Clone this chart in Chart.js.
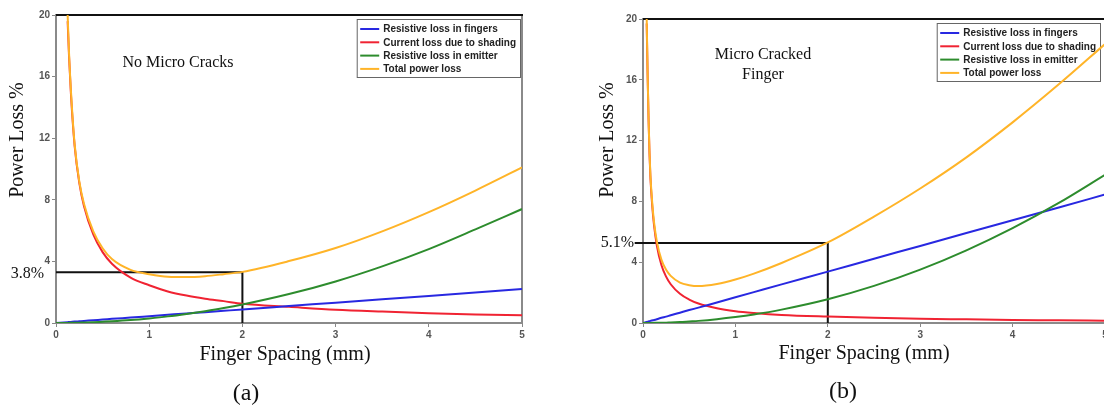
<!DOCTYPE html>
<html>
<head>
<meta charset="utf-8">
<script src="https://cdn.jsdelivr.net/npm/chart.js@4.4.0/dist/chart.umd.min.js"></script>
<style>
  html, body { margin: 0; padding: 0; background: #fff; overflow: hidden; }
  #wrap { position: relative; width: 1104px; height: 410px; overflow: hidden; }
  .panel { position: absolute; top: 0; height: 410px; }
  #panelA { left: 0; width: 545px; }
  #panelB { left: 585px; width: 540px; }
</style>
</head>
<body>
<div id="wrap">
  <div class="panel" id="panelA"><canvas id="chartA"></canvas></div>
  <div class="panel" id="panelB"><canvas id="chartB"></canvas></div>
</div>
<script>
// shared labels
const seriesNames = ["Resistive loss in fingers", "Current loss due to shading", "Resistive loss in emitter", "Total power loss"];
const seriesColors = ["rgb(40,40,225)", "rgb(240,35,50)", "rgb(45,140,45)", "rgb(255,180,40)"];
const seriesOrder = [2, 3, 1, 0]; // total power loss drawn on top
const xTicks = [0, 1, 2, 3, 4, 5];
const yTicks = [0, 4, 8, 12, 16, 20];

// (a) no micro cracks
const spacingA = [0, 0.125, 0.14, 0.16, 0.2, 0.25, 0.3, 0.4, 0.5, 0.6, 0.8, 1, 1.2, 1.4, 1.6, 1.8, 2, 2.5, 3, 3.5, 4, 4.5, 5];
const fingersA = [0, 0.055, 0.06, 0.07, 0.09, 0.11, 0.13, 0.18, 0.22, 0.27, 0.35, 0.44, 0.53, 0.62, 0.7, 0.79, 0.88, 1.1, 1.32, 1.54, 1.76, 1.98, 2.2];
const shadingA = [null, 19.6, 17.3, 14.9, 11.5, 9.1, 7.6, 5.75, 4.6, 3.85, 2.95, 2.45, 2.05, 1.78, 1.58, 1.42, 1.25, 1.05, 0.86, 0.74, 0.64, 0.56, 0.5];
const emitterA = [0, 0, 0.01, 0.01, 0.01, 0.02, 0.03, 0.05, 0.08, 0.11, 0.19, 0.3, 0.43, 0.59, 0.77, 0.97, 1.2, 1.88, 2.7, 3.68, 4.8, 6.08, 7.4];
const totalA = [null, 20, 17.5, 15.1, 11.6, 9.2, 7.75, 5.95, 4.85, 4.15, 3.45, 3.17, 3.0, 2.98, 3.04, 3.17, 3.32, 4.02, 4.87, 5.95, 7.2, 8.6, 10.1];
const markA = { xs: [0, 2, 2], ys: [3.3, 3.3, 0], label: "3.8%" };

// (b) micro cracked finger
const spacingB = [0, 0.04, 0.05, 0.06, 0.07, 0.08, 0.1, 0.12, 0.15, 0.2, 0.25, 0.3, 0.4, 0.5, 0.6, 0.8, 1, 1.2, 1.5, 2, 2.5, 3, 3.5, 4, 4.5, 5];
const fingersB = [0, 0.07, 0.08, 0.1, 0.12, 0.14, 0.17, 0.2, 0.25, 0.34, 0.42, 0.51, 0.68, 0.85, 1.01, 1.35, 1.69, 2.03, 2.54, 3.38, 4.23, 5.07, 5.92, 6.76, 7.6, 8.45];
const shadingB = [null, 19.7, 16.3, 13.4, 11.2, 9.6, 7.7, 6.4, 5.1, 3.8, 3.05, 2.55, 1.92, 1.54, 1.28, 0.97, 0.78, 0.66, 0.53, 0.42, 0.34, 0.28, 0.24, 0.2, 0.18, 0.15];
const emitterB = [0, 0, 0, 0, 0, 0, 0, 0.01, 0.01, 0.02, 0.02, 0.04, 0.06, 0.1, 0.14, 0.25, 0.39, 0.56, 0.88, 1.56, 2.44, 3.51, 4.78, 6.24, 7.9, 9.75];
const totalB = [null, 20, 16.4, 13.5, 11.3, 9.75, 7.9, 6.6, 5.35, 4.15, 3.5, 3.1, 2.66, 2.49, 2.43, 2.57, 2.86, 3.25, 3.95, 5.3, 7.0, 8.85, 10.9, 13.2, 15.7, 18.35];
const markB = { xs: [-0.09, 2, 2], ys: [5.26, 5.26, 0], label: "5.1%" };

const serif = "'Liberation Serif', 'Times New Roman', serif";
Chart.defaults.font.family = "'Liberation Sans', Arial, sans-serif";

const pts = (xs, ys) => xs.map((x, i) => ({ x: x, y: ys[i] }));

// draws the frame, legend box and the loose text of each panel
const decor = {
  id: "decor",
  beforeDatasetsDraw(chart, args, opts) {
    const { ctx, chartArea: a } = chart;
    ctx.save();
    // right + top frame
    ctx.strokeStyle = "#8a8a8a";
    ctx.lineWidth = 2;
    ctx.beginPath();
    ctx.moveTo(a.right, a.top);
    ctx.lineTo(a.right, a.bottom);
    ctx.stroke();
    ctx.strokeStyle = "#111";
    ctx.beginPath();
    ctx.moveTo(a.left, a.top);
    ctx.lineTo(a.right + 1, a.top);
    ctx.stroke();

    // legend box
    const sets = chart.data.datasets.filter(d => !d.guide);
    ctx.font = "bold 10px 'Liberation Sans', Arial, sans-serif";
    const textW = Math.max(...sets.map(d => ctx.measureText(d.label).width));
    const w = 3.5 + 19 + 4 + textW + 4;
    const h = 58;
    const x0 = opts.legendRight - w, y0 = a.top + 4;
    ctx.strokeStyle = "#666";
    ctx.lineWidth = 1;
    ctx.strokeRect(x0 + 0.5, y0 + 0.5, w, h);
    ctx.textBaseline = "middle";
    ctx.textAlign = "left";
    sets.forEach((d, i) => {
      const cy = y0 + 10 + i * 13.3;
      ctx.strokeStyle = d.borderColor;
      ctx.lineWidth = 2;
      ctx.beginPath();
      ctx.moveTo(x0 + 3.5, cy);
      ctx.lineTo(x0 + 22.5, cy);
      ctx.stroke();
      ctx.fillStyle = "#222";
      ctx.fillText(d.label, x0 + 26.5, cy + 0.5);
    });
    ctx.restore();
  },
  afterDraw(chart, args, opts) {
    const ctx = chart.ctx;
    ctx.save();
    ctx.fillStyle = "#111";
    ctx.textBaseline = "middle";
    ctx.textAlign = "center";
    // y title
    ctx.font = "20px " + serif;
    ctx.save();
    ctx.translate(opts.yTitle[0], opts.yTitle[1]);
    ctx.rotate(-Math.PI / 2);
    ctx.fillText("Power Loss %", 0, 0);
    ctx.restore();
    // x title
    ctx.fillText("Finger Spacing (mm)", opts.xTitle[0], opts.xTitle[1]);
    // caption
    ctx.font = "24px " + serif;
    ctx.fillText(opts.caption, opts.captionAt[0], opts.captionAt[1]);
    // note inside the plot
    ctx.font = "16px " + serif;
    opts.note.forEach((t, i) => ctx.fillText(t, opts.noteAt[0], opts.noteAt[1] + i * 20));
    // value label of the guide
    ctx.textAlign = "right";
    ctx.fillText(opts.markLabel, opts.markAt[0], opts.markAt[1]);
    ctx.restore();
  }
};

function makeChart(id, d, layout) {
  const series = [d.fingers, d.shading, d.emitter, d.total];
  const datasets = series.map((ys, i) => ({
    label: seriesNames[i],
    data: pts(d.spacing, ys),
    borderColor: seriesColors[i],
    borderWidth: 2,
    pointRadius: 0,
    cubicInterpolationMode: "monotone",
    fill: false,
    order: seriesOrder[i]
  }));
  datasets.push({
    label: "guide",
    guide: true,
    data: pts(d.mark.xs, d.mark.ys),
    borderColor: "#111",
    borderWidth: 2,
    pointRadius: 0,
    tension: 0,
    clip: false,
    order: 5
  });

  const tickFont = { size: 10, weight: "bold" };
  return new Chart(document.getElementById(id), {
    type: "line",
    data: { datasets: datasets },
    options: {
      responsive: true,
      maintainAspectRatio: false,
      animation: false,
      layout: { padding: { left: 0, top: layout.top, right: layout.right, bottom: 0 } },
      scales: {
        x: {
          type: "linear",
          min: 0,
          max: 5,
          afterBuildTicks: s => { s.ticks = xTicks.map(v => ({ value: v })); },
          afterFit: s => { s.height = 410 - 323; },
          ticks: { font: tickFont, color: "#555", padding: 2, maxRotation: 0 },
          grid: { drawOnChartArea: false, tickLength: 4, color: "#888" },
          border: { color: "#8a8a8a", width: 2 }
        },
        y: {
          min: 0,
          max: 20,
          afterBuildTicks: s => { s.ticks = yTicks.map(v => ({ value: v })); },
          afterFit: s => { s.width = layout.left; },
          ticks: { font: tickFont, color: "#555", padding: 2 },
          grid: { drawOnChartArea: false, tickLength: 4, color: "#888" },
          border: { color: "#8a8a8a", width: 2 }
        }
      },
      plugins: {
        legend: { display: false },
        tooltip: { enabled: false },
        decor: layout.decor
      }
    },
    plugins: [decor]
  });
}

makeChart("chartA",
  { spacing: spacingA, fingers: fingersA, shading: shadingA, emitter: emitterA, total: totalA, mark: markA },
  {
    left: 56, top: 15, right: 23,
    decor: {
      yTitle: [18, 140], xTitle: [285, 355], caption: "(a)", captionAt: [246, 394],
      note: ["No Micro Cracks"], noteAt: [178, 63], markLabel: markA.label, markAt: [44, 274],
      legendRight: 520
    }
  });

makeChart("chartB",
  { spacing: spacingB, fingers: fingersB, shading: shadingB, emitter: emitterB, total: totalB, mark: markB },
  {
    left: 58, top: 19, right: 20,
    decor: {
      yTitle: [23, 140], xTitle: [279, 354], caption: "(b)", captionAt: [258, 392],
      note: ["Micro Cracked", "Finger"], noteAt: [178, 55], markLabel: markB.label, markAt: [49, 243],
      legendRight: 515
    }
  });
</script>
</body>
</html>
